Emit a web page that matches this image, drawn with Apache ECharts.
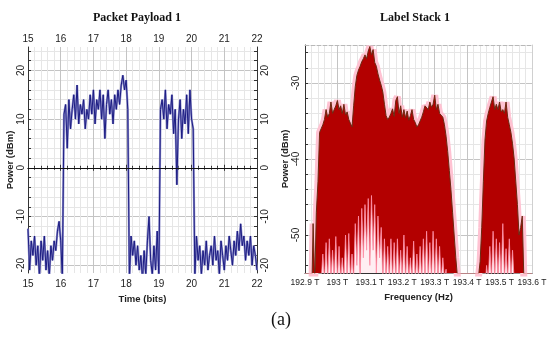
<!DOCTYPE html>
<html><head><meta charset="utf-8">
<script src="https://cdn.jsdelivr.net/npm/echarts@6/dist/echarts.min.js"></script>
<style>html,body{margin:0;padding:0;background:#fff}#c{width:550px;height:337px}</style>
</head><body><div id="c"></div>
<script>
// ---------- Left chart: Packet Payload 1 ----------
const payloadTitle = 'Packet Payload 1';
const payloadStart = 15;      // first sample time (bits)
const payloadStep = 0.05;     // sample spacing (bits)
const payloadPower = [
  // 15.00 - 16.05
  -12.5,-21,-15,-18,-14,-20,-16,-22.5,-15,-19,-14,-21,-17,-22.5,-16,-19,-15,-17,-13,-11,-15,-22.5,
  // 16.10 - 18.05
  11,13,4,14,8,12,15,10,17,9,13,11,14,8,12,10,15,11,16,9,14,12,16,10,15,6,13,16,11,14,9,15,12,16,13,17,19,16,18,12,
  // 18.10 - 19.00
  -23,-14,-18,-15,-20,-16,-21,-18,-23,-17,-22,-15,-10,-19,-22,-16,-21,-13,-22.5,
  // 19.05 - 20.05
  12,14,10,16,8,13,11,15,7,12,-3.5,10,14,6,12,9,15,7,16,10,8,
  // 20.10 - 22.00
  -22.5,-14,-19,-16,-22,-17,-20,-15,-21,-18,-16,-20,-14,-19,-17,-22,-15,-18,-21,-16,-19,-14,-17,-20,-15,-18,-13,-17,-11.5,-16,-14,-19,-15,-18,-14,-20,-16,-18,-21
];
const timeMin = 15, timeMax = 22;
const payloadLabelVals = [-20,-10,0,10,20];
const payloadTickVals = [-20,-18,-16,-14,-12,-10,-8,-6,-4,-2,0,2,4,6,8,10,12,14,16,18,20,22,24];
const payloadYMin = -21.6, payloadYMax = 24.8;

// ---------- Right chart: Label Stack 1 ----------
const stackTitle = 'Label Stack 1';
const freqStart = 192.9;      // THz
const freqStep = 0.005;       // THz
const specEnvelope = [
  -60,-60,-60,-60,-60,-48.5,-56,-47,-43,-36.5,
  -36,-35.5,-34.8,-33.5,-34.5,-34,-32.5,-34,-33.8,-33,
  -32.3,-33.5,-33,-34,-32.8,-34.2,-33.8,-34.8,-35.3,-35.8,
  -33,-30.5,-29,-28.3,-27.8,-27.2,-26.8,-26.3,-26.8,-25.8,
  -25.2,-26.3,-25.6,-27.3,-27.8,-28.8,-29.6,-30.3,-31.2,-32.8,
  -34.3,-34.8,-34.5,-34,-33.4,-34.4,-32.3,-31.8,-34,-33,
  -34.5,-33.5,-34.6,-33.7,-34.9,-34.3,-33.5,-34.8,-35.2,-35.8,
  -35.5,-35,-34.5,-33.8,-33,-32.8,-33.5,-32.5,-33.2,-32.8,
  -31.6,-33.5,-32.8,-34,-33.8,-34.5,-35.5,-37,-39,-41.5,
  -44,-47,-50,-53,-55.5,-60,-60,-60,-60,-60,
  -60,-60,-60,-60,-60,-60,-58,-55.5,-53.5,-49,
  -43,-37.5,-35,-34,-33.2,-32.5,-31.8,-33.5,-32.8,-33.5,
  -32.5,-33.8,-33.5,-34,-32.5,-34.5,-35.5,-36.5,-38,-40,
  -43,-46,-50,-49,-47.5,-56,-60,-60,-60,-60,
  -60
];
const specNoise = [
  -60,-60,-60,-60,-60,-60,-60,-60,-60,-60,
  -56,-52.5,-56,-51,-56,-50.5,-56,-52,-56,-50.2,
  -56,-51.5,-56,-53,-56,-50,-56,-49.8,-56,-52.5,
  -56,-48.5,-54,-47.5,-56,-46.5,-53,-46,-52,-45.2,
  -54,-44.8,-52,-46,-55,-47.5,-53,-49,-56,-50.5,
  -56,-51.5,-56,-50.5,-56,-51,-56,-50.5,-56,-52,
  -56,-50,-56,-51.5,-56,-53,-56,-50.8,-56,-52.5,
  -56,-51.5,-56,-50.5,-56,-49.5,-56,-51,-56,-49.5,
  -56,-50.5,-56,-51.5,-56,-53,-56,-54.5,-60,-60,
  -60,-60,-60,-60,-60,-60,-60,-60,-60,-60,
  -60,-60,-60,-60,-60,-60,-60,-60,-60,-60,
  -60,-60,-54,-56,-51.5,-56,-49.5,-56,-50.5,-56,
  -51,-56,-48.5,-56,-51.8,-56,-50.5,-56,-52,-56,
  -60,-60,-60,-60,-60,-60,-60,-60,-60,-60,
  -60
];
const freqMin = 192.9, freqMax = 193.6, freqInterval = 0.1;
const specYMin = -55, specYMax = -25;
const specLabelVals = [-50,-40,-30];
const specTickVals = [-54,-52,-50,-48,-46,-44,-42,-40,-38,-36,-34,-32,-30,-28,-26];

const figureLabel = '(a)';

// ---------- build ----------
const payloadData = payloadPower.map((v,i)=>[+(payloadStart+i*payloadStep).toFixed(3), v]);
const envData = specEnvelope.map((v,i)=>[+(freqStart+i*freqStep).toFixed(4), v]);
const noiseData = specNoise.map((v,i)=>[+(freqStart+i*freqStep).toFixed(4), v]);

const MAJ = '#c4c4c4', MIN = '#e6e6e6';
const SANS = '"Liberation Sans", Arial, sans-serif';
const SERIF = '"Liberation Serif", "Times New Roman", serif';
const lbl = (extra)=>Object.assign({fontFamily:SANS,fontSize:10,color:'#222'}, extra);
const nameStyle = {fontFamily:SANS,fontSize:9.5,fontWeight:'bold',color:'#222'};

const chart = echarts.init(document.getElementById('c'));
chart.setOption({
  animation:false,
  backgroundColor:'#fff',
  grid:[
    {left:28,right:293,top:47,bottom:64},
    {left:305,right:18,top:45,bottom:64}
  ],
  graphic:[
    {type:'text',style:{text:payloadTitle,font:'bold 12px '+SERIF,fill:'#111',textAlign:'center',textVerticalAlign:'middle'},x:137,y:18},
    {type:'text',style:{text:stackTitle,font:'bold 12px '+SERIF,fill:'#111',textAlign:'center',textVerticalAlign:'middle'},x:415,y:18},
    {type:'text',style:{text:figureLabel,font:'18px '+SERIF,fill:'#111',textAlign:'center',textVerticalAlign:'middle'},x:281,y:320}
  ],
  xAxis:[
    {gridIndex:0,type:'value',min:timeMin,max:timeMax,interval:1,position:'bottom',
     axisLine:{lineStyle:{color:'#333'}},
     axisTick:{inside:true,length:3,lineStyle:{color:'#333'}},
     minorTick:{show:true,splitNumber:5,length:2,lineStyle:{color:'#333'}},
     axisLabel:lbl({margin:6}),
     splitLine:{show:true,lineStyle:{color:MAJ}},
     minorSplitLine:{show:true,lineStyle:{color:MIN}},
     name:'Time (bits)',nameLocation:'middle',nameGap:16,nameTextStyle:nameStyle},
    {gridIndex:0,type:'value',min:timeMin,max:timeMax,interval:1,position:'top',
     axisLine:{lineStyle:{color:'#333'}},
     axisTick:{inside:true,length:3,lineStyle:{color:'#333'}},
     minorTick:{show:true,splitNumber:5,length:2,lineStyle:{color:'#333'}},
     axisLabel:lbl({margin:3}),
     splitLine:{show:false}},
    {gridIndex:1,type:'value',min:freqMin,max:freqMax,interval:freqInterval,position:'bottom',
     axisLine:{lineStyle:{color:'#333'}},
     axisTick:{show:false},
     axisLabel:lbl({margin:5,fontSize:8.5,showMinLabel:true,showMaxLabel:true,
       formatter:v=>(Math.round(v*10)/10)+' T'}),
     splitLine:{show:true,lineStyle:{color:MAJ}},
     minorTick:{show:false,splitNumber:5},
     minorSplitLine:{show:true,lineStyle:{color:MIN}},
     name:'Frequency (Hz)',nameLocation:'middle',nameGap:14,nameTextStyle:nameStyle},
    {gridIndex:1,type:'value',min:freqMin,max:freqMax,interval:freqInterval,position:'top',
     axisLine:{lineStyle:{color:'#b8b8b8',type:'dashed'}},
     axisTick:{show:false},axisLabel:{show:false},splitLine:{show:false}}
  ],
  yAxis:[
    {gridIndex:0,type:'value',min:payloadYMin,max:payloadYMax,position:'left',
     axisLine:{lineStyle:{color:'#333'}},
     axisTick:{inside:true,length:3,customValues:payloadTickVals,lineStyle:{color:'#333'}},
     axisLabel:lbl({customValues:payloadLabelVals,rotate:90,margin:2}),
     splitLine:{show:true,lineStyle:{color:[MAJ,MIN,MIN,MIN,MIN]}},
     name:'Power (dBm)',nameLocation:'middle',nameGap:10,nameTextStyle:nameStyle},
    {gridIndex:0,type:'value',min:payloadYMin,max:payloadYMax,position:'right',
     axisLine:{lineStyle:{color:'#333'}},
     axisTick:{inside:true,length:3,customValues:payloadTickVals,lineStyle:{color:'#333'}},
     axisLabel:lbl({customValues:payloadLabelVals,rotate:90,margin:3}),
     splitLine:{show:false}},
    {gridIndex:1,type:'value',min:specYMin,max:specYMax,position:'left',
     axisLine:{lineStyle:{color:'#333'}},
     axisTick:{inside:true,length:3,customValues:specTickVals,lineStyle:{color:'#333'}},
     axisLabel:lbl({customValues:specLabelVals,rotate:90,margin:4}),
     splitLine:{show:true,lineStyle:{color:[MIN,MIN,MAJ,MIN,MIN]}},
     name:'Power (dBm)',nameLocation:'middle',nameGap:13,nameTextStyle:nameStyle},
    {gridIndex:1,type:'value',min:specYMin,max:specYMax,position:'right',
     axisLine:{lineStyle:{color:'#d0d0d0'}},
     axisTick:{show:false},axisLabel:{show:false},splitLine:{show:false}}
  ],
  series:[
    {type:'line',xAxisIndex:0,yAxisIndex:0,data:payloadData,showSymbol:false,silent:true,
     lineStyle:{color:'#9090cc',width:2.2},z:2},
    {type:'line',xAxisIndex:0,yAxisIndex:0,data:payloadData,showSymbol:false,silent:true,
     lineStyle:{color:'#1c1c82',width:1},z:3,
     markLine:{silent:true,symbol:'none',label:{show:false},
       lineStyle:{color:'#111',width:1,type:'solid'},data:[{yAxis:0}]}},
    {type:'line',xAxisIndex:2,yAxisIndex:2,data:envData,showSymbol:false,silent:true,
     lineStyle:{color:'#ffc2d2',width:7},z:1},
    {type:'line',xAxisIndex:2,yAxisIndex:2,data:envData,showSymbol:false,silent:true,
     lineStyle:{color:'#6a2a12',width:1},
     areaStyle:{color:'#b30000',opacity:1,origin:'start'},z:2},
    {type:'line',xAxisIndex:2,yAxisIndex:2,data:noiseData,showSymbol:false,silent:true,
     lineStyle:{color:'#ff90a8',width:0.8},
     areaStyle:{color:'#ffeef2',opacity:1,origin:'start'},z:3}
  ]
});
</script>
</body></html>
